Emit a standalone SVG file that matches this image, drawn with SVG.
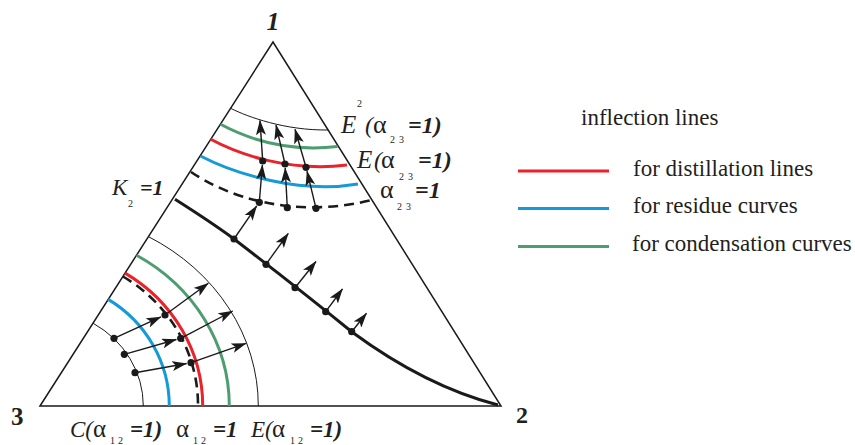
<svg xmlns="http://www.w3.org/2000/svg" width="855" height="445" viewBox="0 0 855 445">
<style>
.tri{fill:none;stroke:#1a1a1a;stroke-width:1.5;stroke-linejoin:miter}
.thin{fill:none;stroke:#1a1a1a;stroke-width:1}
.red{fill:none;stroke:#ea2229;stroke-width:3}
.blue{fill:none;stroke:#159ad8;stroke-width:3}
.green{fill:none;stroke:#4d9d70;stroke-width:3}
.dash{fill:none;stroke:#1a1a1a;stroke-width:2.6;stroke-dasharray:10 6}
.thick{fill:none;stroke:#1a1a1a;stroke-width:3}
.arr{fill:none;stroke:#1a1a1a;stroke-width:1.4;marker-end:url(#ah)}
.dot{fill:#1a1a1a}
.it{font-family:"Liberation Serif","DejaVu Serif",serif;font-style:italic;fill:#231f20}
.bi{font-family:"Liberation Serif","DejaVu Serif",serif;font-style:italic;font-weight:bold;fill:#231f20}
.al{font-family:"Liberation Serif","DejaVu Serif",serif;fill:#231f20}
.sub{font-family:"Liberation Serif","DejaVu Serif",serif;font-size:10px;fill:#231f20}
.leg{font-family:"Liberation Serif","DejaVu Serif",serif;font-size:23px;fill:#231f20}
</style>
<defs>
<marker id="ah" viewBox="0 0 15 10" refX="14.5" refY="5" markerWidth="15" markerHeight="10" markerUnits="userSpaceOnUse" orient="auto">
<path d="M0,0 L15,5 L0,10 L3.5,5 z" fill="#1a1a1a"/>
</marker>
</defs>

<g id="triangle">
<polygon class="tri" points="40,406 273,42 501,406"/>
</g>

<g id="top-curves">
<path class="thin" d="M230.6,108.3 C248,117 285,130.5 328,130"/>
<path class="green" d="M220.5,124.3 C250,140 290,152 337.5,146.5"/>
<path class="red" d="M210.7,139.3 C240,155 290,172 347,165"/>
<path class="blue" d="M200.5,156 C235,174 300,194 358,184"/>
<path class="dash" d="M191,172 C225,195 290,220 372,200"/>
</g>

<g id="k2-line">
<path class="thick" d="M175,199.3 C195,212 215,225 234,239 C260,259 320,306 352,332 C390,360 440,390 498,405"/>
</g>

<g id="bottom-curves">
<path class="thin" d="M93,323.2 A103.3,96.5 0 0 1 143.3,406"/>
<path class="blue" d="M108.2,299.4 A129.3,125.5 0 0 1 169.3,406"/>
<path class="red" d="M125.1,273.1 A162.7,155.9 0 0 1 202.7,406"/>
<path class="dash" d="M123,276.5 A158,151 0 0 1 198,406"/>
<path class="green" d="M136.5,255.3 A189.3,175.2 0 0 1 229.3,406"/>
<path class="thin" d="M148.4,236.6 A218.3,195.2 0 0 1 258.3,406"/>
</g>

<g id="connectors">
<line class="arr" x1="259.3" y1="202.3" x2="262.4" y2="165"/>
<line class="arr" x1="262.7" y1="161" x2="260" y2="120.5"/>
<line class="arr" x1="287.3" y1="207.7" x2="285.2" y2="168"/>
<line class="arr" x1="285" y1="164" x2="276" y2="125"/>
<line class="arr" x1="316" y1="208.3" x2="307" y2="171.2"/>
<line class="arr" x1="306" y1="167.3" x2="295" y2="129.3"/>

<line class="arr" x1="234" y1="239" x2="256.7" y2="206"/>
<line class="arr" x1="266" y1="264.3" x2="288.3" y2="233.3"/>
<line class="arr" x1="295" y1="287.7" x2="316" y2="261.5"/>
<line class="arr" x1="325.7" y1="311.7" x2="342.5" y2="289"/>
<line class="arr" x1="351.7" y1="331.7" x2="366.5" y2="313.3"/>

<line class="arr" x1="114" y1="338.3" x2="160.9" y2="316.9"/>
<line class="arr" x1="124.3" y1="354.3" x2="176.4" y2="339.5"/>
<line class="arr" x1="135" y1="372.7" x2="186.6" y2="363.5"/>
<line class="arr" x1="165" y1="315" x2="208.3" y2="283.3"/>
<line class="arr" x1="180.7" y1="338.3" x2="232.7" y2="311"/>
<line class="arr" x1="191" y1="362.7" x2="246" y2="343.3"/>
</g>

<g id="dots">
<circle class="dot" cx="259.3" cy="202.3" r="3.6"/>
<circle class="dot" cx="287.3" cy="207.7" r="3.6"/>
<circle class="dot" cx="316" cy="208.3" r="3.6"/>
<circle class="dot" cx="262.7" cy="161" r="3.6"/>
<circle class="dot" cx="285" cy="164" r="3.6"/>
<circle class="dot" cx="306" cy="167.3" r="3.6"/>
<circle class="dot" cx="234" cy="239" r="3.6"/>
<circle class="dot" cx="266" cy="264.3" r="3.6"/>
<circle class="dot" cx="295" cy="287.7" r="3.6"/>
<circle class="dot" cx="325.7" cy="311.7" r="3.6"/>
<circle class="dot" cx="351.7" cy="331.7" r="3.6"/>
<circle class="dot" cx="114" cy="338.3" r="3.6"/>
<circle class="dot" cx="124.3" cy="354.3" r="3.6"/>
<circle class="dot" cx="135" cy="372.7" r="3.6"/>
<circle class="dot" cx="165" cy="315" r="3.6"/>
<circle class="dot" cx="180.7" cy="338.3" r="3.6"/>
<circle class="dot" cx="191" cy="362.7" r="3.6"/>
</g>

<g id="vertex-labels">
<text class="bi" x="273" y="30" font-size="26" text-anchor="middle">1</text>
<text class="al" x="11" y="425" font-size="25" font-weight="bold">3</text>
<text class="al" x="516" y="423" font-size="24" font-weight="bold">2</text>
</g>

<g id="label-E2">
<text class="it" x="341" y="133" font-size="25">E</text>
<text class="sub" x="357" y="107">2</text>
<text class="it" x="365" y="133" font-size="24">(</text>
<text class="al" x="373" y="133" font-size="26">α</text>
<text class="sub" x="390 399" y="143">23</text>
<text class="bi" x="408" y="133" font-size="24">=1)</text>
</g>

<g id="label-E">
<text class="it" x="357" y="168" font-size="25">E</text>
<text class="it" x="374" y="168" font-size="24">(</text>
<text class="al" x="381" y="168" font-size="26">α</text>
<text class="sub" x="399 408" y="180">23</text>
<text class="bi" x="418" y="168" font-size="24">=1)</text>
</g>

<g id="label-a23">
<text class="al" x="380" y="198" font-size="26">α</text>
<text class="sub" x="397 406" y="210">23</text>
<text class="bi" x="415" y="198" font-size="24">=1</text>
</g>

<g id="label-K2">
<text class="it" x="112" y="195" font-size="23">K</text>
<text class="sub" x="128" y="207">2</text>
<text class="bi" x="140" y="195" font-size="22">=1</text>
</g>

<g id="label-C">
<text class="it" x="70" y="437" font-size="23">C(</text>
<text class="al" x="93" y="437" font-size="25">α</text>
<text class="sub" x="110 118" y="444">12</text>
<text class="bi" x="130" y="437" font-size="23">=1)</text>
</g>

<g id="label-a12">
<text class="al" x="176" y="437" font-size="25">α</text>
<text class="sub" x="193 201" y="444">12</text>
<text class="bi" x="213" y="437" font-size="23">=1</text>
</g>

<g id="label-E12">
<text class="it" x="251" y="437" font-size="23">E(</text>
<text class="al" x="272" y="437" font-size="25">α</text>
<text class="sub" x="290 298" y="444">12</text>
<text class="bi" x="310" y="437" font-size="23">=1)</text>
</g>

<g id="legend">
<text class="leg" x="581" y="125">inflection lines</text>
<line x1="518" y1="171" x2="609" y2="171" stroke="#ea2229" stroke-width="3"/>
<text class="leg" x="633" y="176">for distillation lines</text>
<line x1="518" y1="208.5" x2="609" y2="208.5" stroke="#159ad8" stroke-width="3"/>
<text class="leg" x="633" y="213">for residue curves</text>
<line x1="518" y1="246.5" x2="609" y2="246.5" stroke="#4d9d70" stroke-width="3"/>
<text class="leg" x="632" y="251">for condensation curves</text>
</g>
</svg>
